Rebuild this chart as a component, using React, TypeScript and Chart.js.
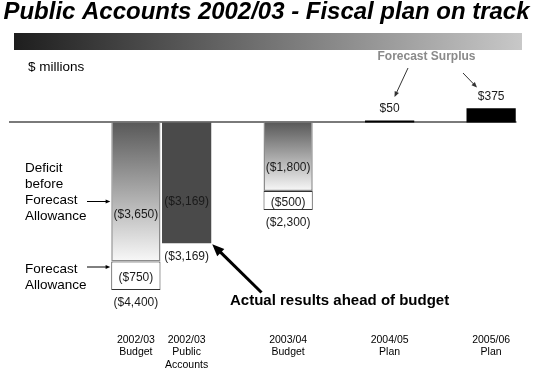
import React, { useEffect, useRef } from 'react';
import { Chart, registerables } from 'chart.js';

Chart.register(...registerables);

const TITLE = 'Public Accounts 2002/03 - Fiscal plan on track';
const UNIT_LABEL = '$ millions';

// Category slots (empty slots give the spacing of the original slide)
const categories: (string | string[])[] = [
  '',
  '',
  ['2002/03', 'Budget'],
  ['2002/03', 'Public', 'Accounts'],
  '',
  ['2003/04', 'Budget'],
  '',
  ['2004/05', 'Plan'],
  '',
  ['2005/06', 'Plan'],
];

const deficitBeforeAllowance = [null, null, -3650, null, null, -1800, null, null, null, null];
const forecastAllowance = [null, null, -750, null, null, -500, null, null, null, null];
const publicAccounts = [null, null, null, -3169, null, null, null, null, null, null];
const forecastSurplus = [null, null, null, null, null, null, null, 50, null, 375];

const Y_MIN = -5000;
const Y_MAX = 1500;

const FONT = '"Liberation Sans", Arial, Helvetica, sans-serif';

const fmt = (v: number) =>
  v < 0 ? `($${Math.abs(v).toLocaleString('en-US')})` : `$${v.toLocaleString('en-US')}`;

function arrow(
  c: CanvasRenderingContext2D,
  x1: number,
  y1: number,
  x2: number,
  y2: number,
  lw: number,
  head: number,
  color: string
) {
  const ang = Math.atan2(y2 - y1, x2 - x1);
  c.save();
  c.strokeStyle = color;
  c.fillStyle = color;
  c.lineWidth = lw;
  c.beginPath();
  c.moveTo(x1, y1);
  c.lineTo(x2 - Math.cos(ang) * head * 0.8, y2 - Math.sin(ang) * head * 0.8);
  c.stroke();
  c.beginPath();
  c.moveTo(x2, y2);
  c.lineTo(x2 - head * Math.cos(ang - 0.4), y2 - head * Math.sin(ang - 0.4));
  c.lineTo(x2 - head * Math.cos(ang + 0.4), y2 - head * Math.sin(ang + 0.4));
  c.closePath();
  c.fill();
  c.restore();
}

const slidePlugin = {
  id: 'slide',
  beforeDraw(chart: any) {
    const c: CanvasRenderingContext2D = chart.ctx;
    c.save();
    c.fillStyle = '#ffffff';
    c.fillRect(0, 0, chart.width, chart.height);
    // title
    c.font = `italic bold 23px ${FONT}`;
    c.fillStyle = '#000';
    c.textAlign = 'left';
    c.textBaseline = 'alphabetic';
    const w = c.measureText(TITLE).width;
    c.translate(3.5, 18.5);
    c.scale(526 / w, 1);
    c.fillText(TITLE, 0, 0);
    c.restore();
    // gradient band
    c.save();
    const g = c.createLinearGradient(14, 0, 522, 0);
    g.addColorStop(0, '#1e1e1e');
    g.addColorStop(1, '#c8c8c8');
    c.fillStyle = g;
    c.fillRect(14, 33, 508, 17);
    c.restore();
  },
  beforeDatasetsDraw(chart: any) {
    const c: CanvasRenderingContext2D = chart.ctx;
    const y0 = chart.scales.y.getPixelForValue(0);
    c.save();
    c.strokeStyle = '#7a7a7a';
    c.lineWidth = 2;
    c.beginPath();
    c.moveTo(chart.chartArea.left, y0 - 0.5);
    c.lineTo(chart.chartArea.right, y0 - 0.5);
    c.stroke();
    c.restore();
  },
  afterDatasetsDraw(chart: any) {
    const c: CanvasRenderingContext2D = chart.ctx;
    const ys = chart.scales.y;
    c.save();
    c.fillStyle = '#1a1a1a';
    c.textAlign = 'center';
    c.textBaseline = 'middle';
    c.font = `12px ${FONT}`;

    const metas = [0, 1, 2, 3].map((i) => chart.getDatasetMeta(i));

    for (let idx = 0; idx < categories.length; idx++) {
      const d = deficitBeforeAllowance[idx];
      if (d != null) {
        const el = metas[0].data[idx];
        c.fillText(fmt(d), el.x, ys.getPixelForValue(d * 0.66));
      }
      const a = forecastAllowance[idx];
      if (a != null) {
        const el = metas[1].data[idx];
        c.fillText(fmt(a), el.x, (el.y + el.base) / 2 + 2);
      }
      const p = publicAccounts[idx];
      if (p != null) {
        const el = metas[2].data[idx];
        c.fillText(fmt(p), el.x, ys.getPixelForValue(p * 0.66));
        c.fillText(fmt(p), el.x, el.y + 14);
      }
      if (d != null && a != null) {
        const el = metas[1].data[idx];
        c.fillText(fmt(d + a), el.x, el.y + 13);
      }
      const s = forecastSurplus[idx];
      if (s != null) {
        const el = metas[3].data[idx];
        c.fillText(fmt(s), el.x, el.y - 11.5);
      }
    }

    // $ millions
    c.textAlign = 'left';
    c.fillStyle = '#000';
    c.font = `13.5px ${FONT}`;
    c.fillText(UNIT_LABEL, 28, 67);

    // left annotations
    const budgetEl = metas[0].data[2];
    const barLeft = budgetEl.x - budgetEl.width / 2;
    const leftLines1 = ['Deficit', 'before', 'Forecast', 'Allowance'];
    leftLines1.forEach((t, i) => c.fillText(t, 25, 168 + i * 16.2));
    arrow(c, 87, 201.5, barLeft - 1, 201.5, 1, 5, '#000');
    const leftLines2 = ['Forecast', 'Allowance'];
    leftLines2.forEach((t, i) => c.fillText(t, 25, 269 + i * 16.2));
    arrow(c, 87, 267, barLeft - 1, 267, 1, 5, '#000');

    // Forecast Surplus
    c.textAlign = 'center';
    c.fillStyle = '#8a8a8a';
    c.font = `bold 12px ${FONT}`;
    c.fillText('Forecast Surplus', 426.5, 57);
    arrow(c, 408, 68, 394.5, 97, 1, 6, '#333');
    arrow(c, 463, 73, 477, 87.5, 1, 6, '#333');

    // Actual results
    const paEl = metas[2].data[3];
    const tipX = paEl.x + paEl.width / 2 + 1;
    const tipY = paEl.y + 1;
    arrow(c, 261.5, 292.5, tipX, tipY, 3, 13, '#000');
    c.textAlign = 'left';
    c.fillStyle = '#000';
    c.font = `bold 15px ${FONT}`;
    c.fillText('Actual results ahead of budget', 230, 300.5);
    c.restore();
  },
};

export default function App() {
  const ref = useRef<HTMLCanvasElement>(null);
  useEffect(() => {
    if (!ref.current) return;
    const gradientFill = (ctx: any) => {
      const chart = ctx.chart;
      const raw = ctx.raw as number | null;
      if (!chart.chartArea || raw == null) return '#999';
      const ys = chart.scales.y;
      const y0 = ys.getPixelForValue(0);
      const y1 = ys.getPixelForValue(raw);
      const g = chart.ctx.createLinearGradient(0, y0, 0, y1);
      g.addColorStop(0, '#595959');
      g.addColorStop(1, '#f8f8f8');
      return g;
    };
    const chart = new Chart(ref.current, {
      type: 'bar',
      data: {
        labels: categories as any,
        datasets: [
          {
            label: 'Deficit before Forecast Allowance',
            data: deficitBeforeAllowance as any,
            backgroundColor: gradientFill,
            borderColor: '#8c8c8c',
            borderWidth: 1.5,
            borderSkipped: 'start',
          },
          {
            label: 'Forecast Allowance',
            data: forecastAllowance as any,
            backgroundColor: '#ffffff',
            borderColor: '#333333',
            borderWidth: 1,
            borderSkipped: false,
          },
          {
            label: 'Public Accounts',
            data: publicAccounts as any,
            backgroundColor: '#4a4a4a',
            borderWidth: 0,
          },
          {
            label: 'Forecast Surplus',
            data: forecastSurplus as any,
            backgroundColor: '#000000',
            borderWidth: 0,
          },
        ],
      },
      options: {
        animation: false,
        responsive: false,
        events: [],
        barPercentage: 0.97,
        categoryPercentage: 1,
        layout: { padding: { left: 9, right: 20.5, top: 65.4, bottom: 0 } },
        plugins: { legend: { display: false }, tooltip: { enabled: false }, title: { display: false } },
        scales: {
          x: {
            stacked: true,
            grid: { display: false },
            border: { display: false },
            ticks: {
              autoSkip: false,
              maxRotation: 0,
              minRotation: 0,
              padding: 13,
              color: '#000',
              font: { family: FONT, size: 10.5, lineHeight: 1.19 },
            },
            afterFit: (scale: any) => {
              scale.height = 55.15;
            },
          },
          y: {
            stacked: true,
            display: false,
            min: Y_MIN,
            max: Y_MAX,
          },
        },
      },
      plugins: [slidePlugin],
    });
    return () => chart.destroy();
  }, []);
  return (
    <div style={{ position: 'absolute', left: 0, top: 0, width: 537, height: 368 }}>
      <canvas ref={ref} width={537} height={368} style={{ width: 537, height: 368, display: 'block' }} />
    </div>
  );
}
